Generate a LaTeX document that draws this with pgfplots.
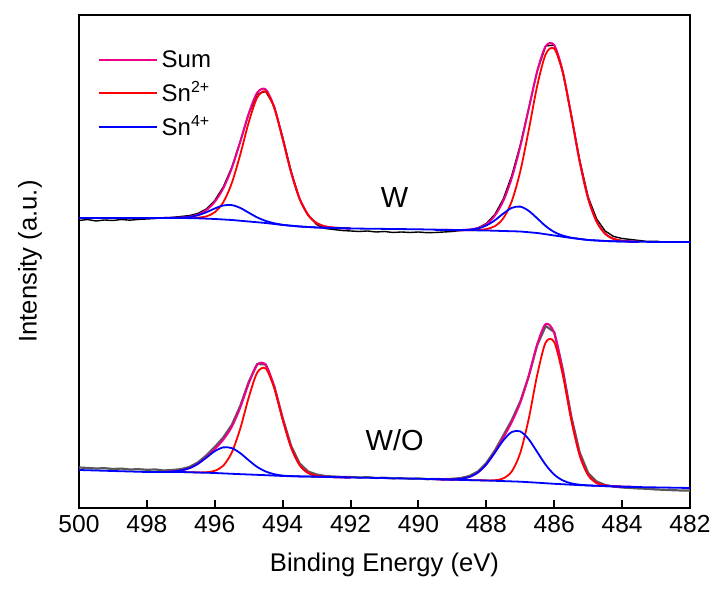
\documentclass[border=0pt]{standalone}
\usepackage{pgfplots}
\pgfplotsset{compat=1.18}
\usepackage{pgfplotstable}
\usepackage{fontspec}
\setmainfont{Liberation Sans}

\pgfplotstableread{
x s2 s4 sum
497.5 290 290 290
497.25 290 290.1 290.1
497.0 290 290.4 290.4
496.75 290.0 291.0 291.2
496.5 290.3 292.7 293.3
496.25 291.6 295.7 297.9
496.0 295.75 299.5 306.2
495.75 305.7 302.5 319.7
495.5 324.8 302.9 339.7
495.25 353.3 300.1 366.1
495.0 385.6 295.3 394.4
494.75 410.5 290.6 415.3
494.5 416.5 287.1 418.6
494.25 400.2 284.75 400.9
494.0 369.1 283.2 369.3
493.75 335.6 282.25 335.65
493.5 309.2 281.5 309.2
493.25 293.1 281 293.1
493.0 284.9 280.5 284.9
492.75 281.55 280.2 281.55
492.5 280.35 280 280.35
492.25 279.9 279.8 279.9
492.0 279.5 279.5 279.5
}\topA

\pgfplotstableread{
x s2 s4 sum
489.5 278 278 278
489.25 278 278 278
489.0 278 278 278
488.75 277.8 277.95 277.95
488.5 277.8 278.3 278.4
488.25 277.95 279.5 279.9
488.0 278.9 282.5 283.9
487.75 281.8 287.7 292.3
487.5 289.7 294.45 307.15
487.25 306.8 300.1 330.1
487.0 336.6 301.4 361.5
486.75 378.0 297.1 399.3
486.5 422.3 289.6 436.9
486.25 453.9 281.8 461.9
486.0 459.3 276.0 462.8
485.75 435.5 272.45 436.75
485.5 392.6 270.35 392.95
485.25 346.5 269.1 346.6
485.0 309.5 268 309.5
484.75 286.4 267.5 286.4
484.5 274.3 267 274.3
484.25 269.1 266.7 269.1
484.0 267.2 266.5 267.2
483.75 266.5 266.3 266.5
483.5 266.2 266.2 266.2
}\topB

\pgfplotstableread{
x s2 s4 sum
497.5 36 36.1 36.1
497.25 36 36.5 36.5
497.0 36 37.6 37.6
496.75 35.75 39.8 39.8
496.5 35.6 44.1 44.2
496.25 35.75 50.3 50.8
496.0 37.2 56.8 59.0
495.75 42.3 60.6 68.3
495.5 55.4 59.9 81.1
495.25 79.35 54.85 100.35
495.0 110.4 47.7 124.6
494.75 135.35 41.05 143.25
494.5 139.5 36.5 143.2
494.25 120.0 33.8 121.4
494.0 88.5 32.4 88.9
493.75 60.5 31.9 60.6
493.5 43.0 31.6 43.0
493.25 35.05 31.45 35.05
493.0 32.2 31.3 32.2
492.75 31.3 31.1 31.3
492.5 30.9 30.9 30.9
492.25 30.7 30.7 30.7
492.0 30.5 30.5 30.5
}\botA

\pgfplotstableread{
x s2 s4 sum
489.5 28.8 28.8 28.8
489.25 28.55 28.6 28.6
489.0 28.3 28.6 28.6
488.75 28.1 29.2 29.2
488.5 27.9 31.1 31.1
488.25 27.7 35.5 35.5
488.0 27.6 43.7 43.8
487.75 27.75 55.3 55.85
487.5 29.6 67.6 70.3
487.25 36.6 76.0 86.0
487.0 55.1 76.6 105.4
486.75 89.3 68.7 132.2
486.5 133.2 55.95 163.85
486.25 165.65 43.1 184.0
486.0 165.9 33.4 175.1
485.75 133.35 27.6 137.2
485.5 88.5 24.65 89.9
485.25 52.8 23.3 53.2
485.0 33.0 22.6 33.1
484.75 25.05 22.2 25.05
484.5 22.5 21.9 22.5
484.25 21.7 21.6 21.7
484.0 21.3 21.3 21.3
483.75 21.1 21.1 21.1
483.5 20.9 20.9 20.9
}\botB

\begin{document}
\begin{tikzpicture}
\begin{axis}[
  at={(0,0)}, anchor=south west,
  scale only axis, width=305.5pt, height=246.5pt,
  xmin=482, xmax=500, x dir=reverse,
  ymin=0, ymax=493,
  xtick={482,484,...,500}, ytick=\empty,
  xtick pos=bottom, tick align=inside,
  major tick length=4pt,
  every tick/.style={black, line width=1pt},
  axis line style={line width=1.35pt},
  /pgf/number format/assume math mode=true,
  /pgf/number format/1000 sep={},
  xticklabel style={font=\fontsize{12.3}{14}\selectfont},
  xlabel={Binding Energy (eV)},
  ylabel={Intensity (a.u.)},
  label style={font=\fontsize{12.8}{15}\selectfont},
  xlabel style={at={(axis description cs:0.5,-0.1156)}, anchor=center},
  ylabel style={at={(axis description cs:-0.0802,0.5)}, anchor=center},
  legend style={draw=none, fill=none, at={(axis description cs:0.03,0.937)}, anchor=north west,
    font=\fontsize{12}{14}\selectfont, row sep=1.6pt, inner sep=0pt, cells={anchor=west}},
  legend image code/.code={\draw[#1] (0pt,0pt) -- (29pt,0pt);},
]
% raw spectra
\addplot[black, line width=0.7pt, forget plot] coordinates {
(500,287.5)(499.75,288.5)(499.5,287)(499.25,288)(499,287.5)(498.75,288.5)(498.5,287.8)(498.25,288.6)(498,289)(497.75,289.5)(497.5,290.3)(497.25,290.6)(497,291.5)(496.75,292.4)(496.5,294.5)(496.25,299)(496,307.5)(495.75,321)(495.5,340.5)(495.25,366.5)(495,394)(494.75,414)(494.5,416.5)(494.25,402)(494,371)(493.75,336.5)(493.5,309)(493.25,292.5)(493,283.5)(492.75,279.5)(492.5,278.5)(492.25,277.5)(492,277)(491.75,276.5)(491.5,277)(491.25,276)(491,276.5)(490.75,275.5)(490.5,276)(490.25,275.5)(490,276)(489.75,275.3)(489.5,275.5)(489.25,276)(489,276.5)(488.75,277.5)(488.5,278)(488.25,280)(488,284.5)(487.75,293.5)(487.5,309)(487.25,332.5)(487,363)(486.75,400)(486.5,437)(486.25,462)(486,463)(485.75,437)(485.5,393.5)(485.25,348)(485,311)(484.75,289)(484.5,277)(484.25,271.5)(484,269.5)(483.75,268.5)(483.5,267.5)(483.25,266.5)(483,266.8)(482.75,265.8)(482.5,266.3)(482.25,266)(482,265.8)
};
\addplot[black!65, line width=1.1pt, forget plot] coordinates {
(500,40.5)(499.75,40)(499.5,39.5)(499.25,39.8)(499,39)(498.75,39.4)(498.5,38.5)(498.25,38.8)(498,38.2)(497.75,38.5)(497.5,37.5)(497.25,38)(497,38.8)(496.75,41)(496.5,45.5)(496.25,52.5)(496,61)(495.75,70.5)(495.5,83)(495.25,102)(495,126)(494.75,144)(494.5,143.5)(494.25,122)(494,90)(493.75,62)(493.5,44.5)(493.25,36.5)(493,33.5)(492.75,32)(492.5,31.5)(492.25,31)(492,31)(491.75,30.5)(491.5,30.8)(491.25,30)(491,30.3)(490.75,29.5)(490.5,29.8)(490.25,29.2)(490,29.5)(489.75,28.8)(489.5,29)(489.25,28.8)(489,29.2)(488.75,30)(488.5,32)(488.25,36.5)(488,45)(487.75,57.5)(487.5,72.5)(487.25,88)(487,106.5)(486.75,132)(486.5,163)(486.25,182)(486,176)(485.75,139)(485.5,92)(485.25,55.5)(485,35)(484.75,26.5)(484.5,23)(484.25,21.5)(484,20.5)(483.75,20)(483.5,19.5)(483.25,19.2)(483,18.5)(482.75,18.2)(482.5,17.8)(482.25,17.5)(482,17.5)
};
% sums
\addplot[magenta, line width=1pt, smooth, forget plot] table[x=x,y=sum]{\topA};
\addplot[magenta, line width=1pt, smooth, forget plot] table[x=x,y=sum]{\topB};
\addplot[magenta, line width=1pt, smooth, forget plot] table[x=x,y=sum]{\botA};
\addplot[magenta, line width=1pt, smooth, forget plot] table[x=x,y=sum]{\botB};
% Sn2+
\addplot[red, line width=0.9pt, smooth, forget plot] table[x=x,y=s2]{\topA};
\addplot[red, line width=0.9pt, smooth, forget plot] table[x=x,y=s2]{\topB};
\addplot[red, line width=0.9pt, smooth, forget plot] table[x=x,y=s2]{\botA};
\addplot[red, line width=0.9pt, smooth, forget plot] table[x=x,y=s2]{\botB};
% Sn4+
\addplot[blue, line width=0.9pt, smooth, forget plot] table[x=x,y=s4]{\topA};
\addplot[blue, line width=0.9pt, smooth, forget plot] table[x=x,y=s4]{\topB};
\addplot[blue, line width=0.9pt, smooth, forget plot] table[x=x,y=s4]{\botA};
\addplot[blue, line width=0.9pt, smooth, forget plot] table[x=x,y=s4]{\botB};
% backgrounds
\addplot[blue, line width=0.9pt, forget plot] coordinates {
(500,290)(497,290)(496.5,289.7)(496,289)(495.5,288)(495,286.5)(494.5,285)(494,283)(493.5,281.5)(493,280.5)(492,279.5)(490,278.7)(489,278)(488,277.5)(487.5,277)(487,276.5)(486.5,275)(486,272.5)(485.5,270)(485,268)(484.5,267)(484,266.5)(483,266)(482,266)
};
\addplot[blue, line width=0.9pt, forget plot] coordinates {
(500,38)(499,37)(498,36)(497,36)(496.5,35.5)(496,35)(495.5,34.2)(495,33.5)(494.5,32.8)(494,32)(493.5,31.6)(493,31.3)(492.5,30.9)(492,30.5)(491,29.9)(490,29.3)(489.5,28.8)(489,28.3)(488.5,27.9)(488,27.5)(487.5,26.9)(487,26.3)(486.5,25.3)(486,24.2)(485.5,23.3)(485,22.5)(484.5,21.9)(484,21.3)(483.5,20.9)(483,20.6)(482,20)
};
\addlegendimage{magenta, line width=1pt}
\addlegendimage{red, line width=0.9pt}
\addlegendimage{blue, line width=0.9pt}
\legend{Sum, Sn\textsuperscript{2+}, Sn\textsuperscript{4+}}
\node[font=\fontsize{14.5}{16}\selectfont] at (axis cs:490.7,310) {W};
\node[font=\fontsize{14.5}{16}\selectfont] at (axis cs:490.7,68) {W/O};
\end{axis}
\pgfresetboundingbox
\useasboundingbox (-39.5pt,-42pt) rectangle (321pt,254pt);
\end{tikzpicture}
\end{document}
